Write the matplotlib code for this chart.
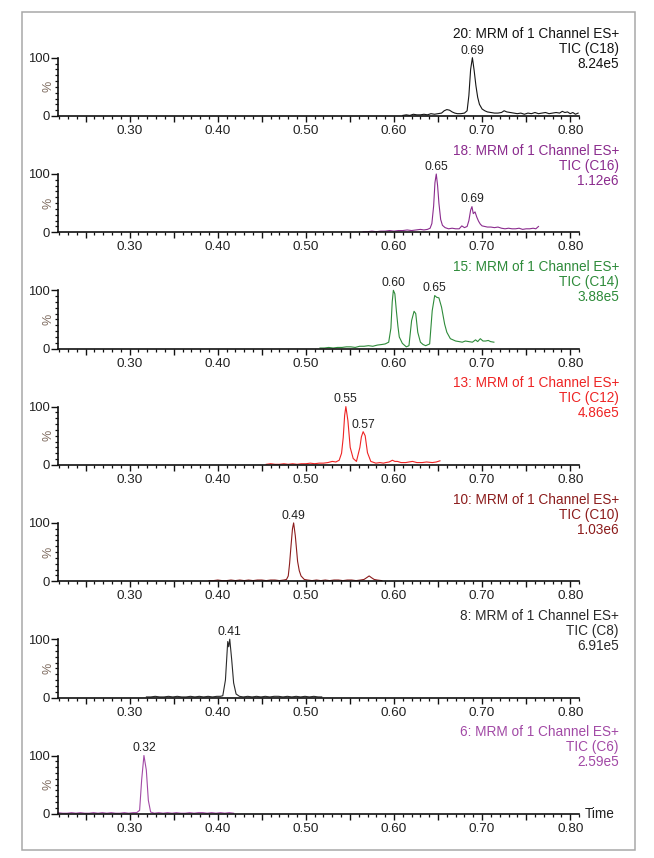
import matplotlib
matplotlib.use('Agg')
import matplotlib.pyplot as plt
from matplotlib.patches import Rectangle
from matplotlib.ticker import MultipleLocator, FuncFormatter, FixedLocator

plt.rcParams['font.family'] = ['Liberation Sans', 'DejaVu Sans']

FUNCTIONS   = ["20", "18", "15", "13", "10", "8", "6"]
CHANNELS    = ["C18", "C16", "C14", "C12", "C10", "C8", "C6"]
INTENSITIES = ["8.24e5", "1.12e6", "3.88e5", "4.86e5", "1.03e6", "6.91e5", "2.59e5"]
PEAK_LABELS = [["0.69"], ["0.65", "0.69"], ["0.60", "0.65"], ["0.55", "0.57"],
               ["0.49"], ["0.41"], ["0.32"]]

T_C18 = [0.610, 0.614, 0.618, 0.622, 0.626, 0.630, 0.634, 0.638, 0.642, 0.646,
         0.650, 0.654, 0.657, 0.660, 0.663, 0.666, 0.669, 0.672, 0.676, 0.680,
         0.683, 0.685, 0.687, 0.689, 0.691, 0.693, 0.695, 0.697, 0.700, 0.703,
         0.706, 0.710, 0.714, 0.718, 0.722, 0.725, 0.728, 0.732, 0.736, 0.740,
         0.744, 0.748, 0.752, 0.756, 0.760, 0.764, 0.768, 0.772, 0.776, 0.780,
         0.784, 0.788, 0.791, 0.794, 0.797, 0.800, 0.803, 0.806, 0.809]
I_C18 = [1, 2, 1, 3, 2, 2, 3, 2, 4, 3,
         4, 5, 9, 11, 10, 7, 5, 4, 4, 5,
         9, 35, 80, 100, 78, 52, 32, 20, 12, 9,
         7, 6, 5, 5, 6, 9, 7, 6, 5, 4,
         5, 3, 5, 4, 6, 4, 5, 6, 4, 5,
         6, 5, 8, 6, 7, 4, 6, 3, 5]

T_C16 = [0.565, 0.570, 0.575, 0.580, 0.585, 0.590, 0.595, 0.600, 0.605, 0.610,
         0.615, 0.620, 0.625, 0.630, 0.634, 0.638, 0.641, 0.643, 0.645, 0.6465,
         0.648, 0.6495, 0.651, 0.653, 0.655, 0.658, 0.662, 0.666, 0.670, 0.674,
         0.677, 0.680, 0.683, 0.685, 0.687, 0.6885, 0.690, 0.692, 0.694, 0.696,
         0.698, 0.700, 0.703, 0.706, 0.710, 0.714, 0.718, 0.722, 0.726, 0.730,
         0.734, 0.738, 0.742, 0.746, 0.750, 0.754, 0.758, 0.761, 0.764]
I_C16 = [1, 1, 2, 1, 2, 2, 3, 2, 3, 3,
         4, 3, 4, 5, 4, 5, 7, 15, 45, 85,
         100, 80, 50, 22, 12, 8, 6, 7, 6, 6,
         11, 8, 10, 20, 38, 44, 32, 35, 26, 19,
         14, 11, 10, 9, 9, 8, 9, 7, 6, 7,
         6, 6, 7, 5, 6, 6, 7, 6, 10]

T_C14 = [0.516, 0.521, 0.526, 0.531, 0.536, 0.541, 0.546, 0.551, 0.556, 0.561,
         0.566, 0.571, 0.576, 0.581, 0.586, 0.590, 0.594, 0.5965, 0.598, 0.5993,
         0.601, 0.6027, 0.6045, 0.606, 0.6095, 0.614, 0.617, 0.620, 0.6228, 0.6247,
         0.627, 0.630, 0.633, 0.636, 0.6405, 0.6434, 0.6462, 0.6485, 0.651, 0.654,
         0.6575, 0.660, 0.664, 0.667, 0.670, 0.674, 0.6775, 0.681, 0.685, 0.689,
         0.6926, 0.695, 0.698, 0.701, 0.704, 0.707, 0.7096, 0.7134]
I_C14 = [1, 1, 2, 1, 2, 2, 3, 3, 2, 4,
         4, 5, 4, 6, 7, 8, 11, 35, 80, 100,
         94, 65, 38, 20, 9, 3, 5, 48, 64, 60,
         28, 11, 7, 5, 8, 65, 91, 88, 87, 71,
         42, 28, 17, 15, 13, 12, 11, 13, 12, 11,
         15, 12, 17, 13, 13, 14, 12, 11]

T_C12 = [0.455, 0.460, 0.465, 0.470, 0.475, 0.480, 0.485, 0.490, 0.495, 0.500,
         0.505, 0.510, 0.515, 0.520, 0.525, 0.530, 0.534, 0.5378, 0.5405, 0.5424,
         0.544, 0.5454, 0.5477, 0.5503, 0.5537, 0.5574, 0.5613, 0.563, 0.565, 0.5673,
         0.5699, 0.5737, 0.5794, 0.584, 0.588, 0.5907, 0.5945, 0.5982, 0.601, 0.6039,
         0.608, 0.6134, 0.617, 0.621, 0.626, 0.632, 0.637, 0.6435, 0.648, 0.6522]
I_C12 = [1, 2, 1, 1, 2, 1, 2, 1, 2, 2,
         3, 2, 3, 3, 4, 6, 5, 8, 20, 47,
         85, 100, 76, 30, 11, 6, 30, 48, 57, 50,
         21, 6, 3, 4, 3, 4, 5, 8, 6, 6,
         4, 4, 5, 6, 4, 4, 5, 4, 5, 7]

T_C10 = [0.390, 0.395, 0.400, 0.405, 0.410, 0.415, 0.420, 0.425, 0.430, 0.435,
         0.440, 0.445, 0.450, 0.455, 0.460, 0.465, 0.470, 0.475, 0.478, 0.480,
         0.4815, 0.4831, 0.4848, 0.4861, 0.488, 0.4906, 0.4925, 0.4945, 0.4982, 0.502,
         0.507, 0.512, 0.517, 0.522, 0.527, 0.532, 0.537, 0.542, 0.547, 0.552,
         0.557, 0.562, 0.566, 0.568, 0.5718, 0.5745, 0.5775, 0.581, 0.5862]
I_C10 = [1, 1, 2, 1, 1, 2, 1, 2, 1, 2,
         1, 2, 2, 1, 2, 2, 1, 2, 3, 9,
         30, 60, 90, 100, 78, 34, 18, 9, 3, 2,
         1, 2, 1, 2, 1, 2, 2, 1, 2, 2,
         1, 2, 3, 5, 9, 6, 3, 2, 1]

T_C8 = [0.319, 0.324, 0.329, 0.334, 0.339, 0.344, 0.349, 0.354, 0.359, 0.364,
        0.369, 0.374, 0.379, 0.384, 0.389, 0.394, 0.399, 0.403, 0.4057, 0.4087,
        0.4113, 0.4124, 0.4136, 0.4158, 0.418, 0.4208, 0.4246, 0.429, 0.434, 0.439,
        0.444, 0.449, 0.454, 0.459, 0.464, 0.469, 0.474, 0.479, 0.484, 0.489,
        0.494, 0.499, 0.504, 0.509, 0.514, 0.518]
I_C8 = [1, 1, 2, 1, 1, 2, 1, 2, 1, 1,
        2, 1, 2, 1, 2, 1, 2, 2, 3, 30,
        96, 87, 100, 65, 25, 6, 2, 1, 2, 1,
        2, 1, 2, 1, 2, 2, 1, 2, 1, 2,
        1, 2, 1, 2, 1, 1]

T_C6 = [0.219, 0.224, 0.229, 0.234, 0.239, 0.244, 0.249, 0.254, 0.259, 0.264,
        0.269, 0.274, 0.279, 0.284, 0.289, 0.294, 0.299, 0.304, 0.308, 0.3113,
        0.3136, 0.3162, 0.3189, 0.3212, 0.3238, 0.328, 0.333, 0.338, 0.343, 0.348,
        0.353, 0.358, 0.363, 0.368, 0.373, 0.378, 0.383, 0.388, 0.393, 0.398,
        0.403, 0.408, 0.413, 0.418]
I_C6 = [2, 1, 1, 2, 1, 2, 1, 1, 2, 1,
        2, 1, 2, 1, 1, 2, 1, 2, 2, 6,
        58, 100, 75, 23, 3, 1, 2, 1, 2, 1,
        2, 1, 1, 2, 1, 2, 2, 1, 2, 1,
        2, 1, 2, 1]

TIMES  = [T_C18, T_C16, T_C14, T_C12, T_C10, T_C8, T_C6]
SIGNAL = [I_C18, I_C16, I_C14, I_C12, I_C10, I_C8, I_C6]

# ── Style / mise en page (pixels de la figure 654 x 858) ────────────────
COLORS = ['#151515', '#8b2c8e', '#2e8b3a', '#ee2424', '#8c1c1c', '#2a2a2a', '#a24aa6']
TEXT_DARK = '#222222'
W, H = 654, 858
X_MIN, X_MAX = 0.219, 0.81
AX_L, AX_R = 58.3, 579.0
ZERO0, STEP, AX_H = 116.0, 116.3, 58.3
TITLE_X = 619.0

fig = plt.figure(figsize=(W / 100, H / 100), dpi=100)

fig.add_artist(Rectangle((21.5 / W, 1 - 849.5 / H), (634.5 - 21.5) / W, (849.5 - 12) / H,
                         transform=fig.transFigure, fill=False,
                         edgecolor='#a8a8a8', lw=1.1))

for i in range(len(CHANNELS)):
    zero_px = ZERO0 + i * STEP
    top_px  = zero_px - AX_H
    ax = fig.add_axes([AX_L / W, 1 - zero_px / H, (AX_R - AX_L) / W, AX_H / H])
    col = COLORS[i]

    ax.plot(TIMES[i], SIGNAL[i], color=col, lw=0.8, clip_on=False)

    ax.set_xlim(X_MIN, X_MAX)
    ax.set_ylim(0, 100)
    for s in ('top', 'right'):
        ax.spines[s].set_visible(False)
    for s in ('left', 'bottom'):
        ax.spines[s].set_linewidth(1.2)
        ax.spines[s].set_color('#111111')

    # axe des temps : graduations majeures 0.05, étiquettes tous les 0.1
    ax.xaxis.set_major_locator(MultipleLocator(0.05))
    ax.xaxis.set_minor_locator(MultipleLocator(0.01))
    ax.xaxis.set_major_formatter(FuncFormatter(
        lambda v, p: f"{v:.2f}" if round(v * 100) % 10 == 0 else ""))
    ax.tick_params(axis='x', which='major', direction='out', length=4, width=1,
                   pad=2.6, labelsize=9.7, labelcolor=TEXT_DARK, color='#111111')
    ax.tick_params(axis='x', which='minor', direction='out', length=2.3, width=0.9,
                   color='#111111')

    ax.yaxis.set_major_locator(FixedLocator([0, 100]))
    ax.yaxis.set_minor_locator(MultipleLocator(10))
    ax.tick_params(axis='y', which='major', direction='out', length=5, width=1,
                   pad=0.8, labelsize=9.4, labelcolor=TEXT_DARK, color='#111111')
    ax.tick_params(axis='y', which='minor', direction='out', length=2.5, width=0.9,
                   color='#111111')
    ax.text((48 - AX_L) / (AX_R - AX_L), 0.5, '%', rotation=90, ha='center',
            va='center', fontsize=9, color='#7d6a5e', transform=ax.transAxes)

    # en-tête de la fonction MRM
    lines = [f"{FUNCTIONS[i]}: MRM of 1 Channel ES+", f"TIC ({CHANNELS[i]})", INTENSITIES[i]]
    for k, txt in enumerate(lines):
        fig.text(TITLE_X / W, 1 - (top_px - 19.4 + 15 * k) / H, txt, ha='right',
                 va='baseline', fontsize=9.8, color=col)

    # étiquettes des pics
    for lab in PEAK_LABELS[i]:
        rt = float(lab)
        idx = [j for j, t in enumerate(TIMES[i]) if abs(t - rt) <= 0.007]
        j = max(idx, key=lambda n: SIGNAL[i][n])
        ax.annotate(lab, xy=(TIMES[i][j], SIGNAL[i][j]), xytext=(0, 3),
                    textcoords='offset points', ha='center', va='baseline',
                    fontsize=8.8, color=TEXT_DARK, annotation_clip=False)

fig.text(585 / W, 1 - (ZERO0 + 6 * STEP) / H, 'Time', ha='left', va='center',
         fontsize=9.8, color=TEXT_DARK)

fig.savefig('out.png', dpi=100)
